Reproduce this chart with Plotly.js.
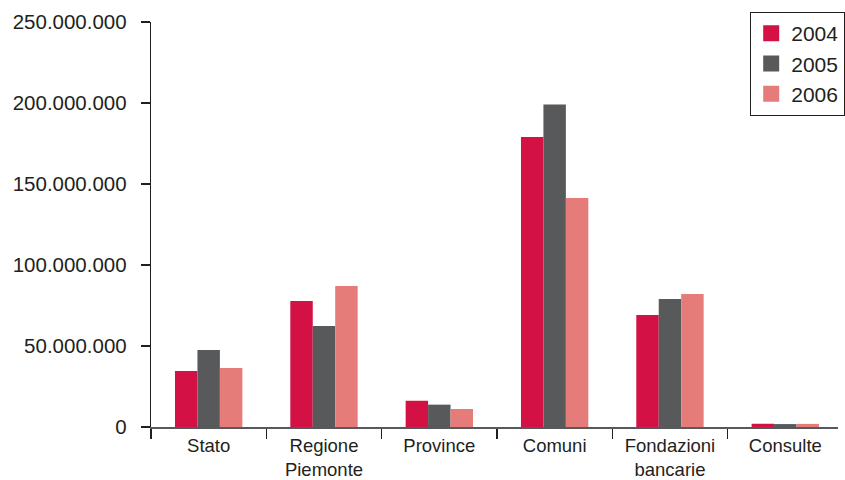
<!DOCTYPE html>
<html><head><meta charset="utf-8">
<script src="https://cdn.plot.ly/plotly-3.0.1.min.js"></script>
<style>html,body{margin:0;padding:0;background:#fff}</style>
</head><body><div id="chart" style="width:845px;height:480px"></div>
<script>
const categories = ["Stato", "Regione<br>Piemonte", "Province", "Comuni", "Fondazioni<br>bancarie", "Consulte"];
const years = ["2004", "2005", "2006"];
const values2004 = [34600000, 77800000, 16200000, 179000000, 69100000, 2000000];
const values2005 = [47500000, 62300000, 13800000, 199000000, 79000000, 1800000];
const values2006 = [36400000, 87000000, 11100000, 141400000, 82100000, 1900000];
const colors = ["#D31145", "#58595B", "#E57C7A"];
const series = [values2004, values2005, values2006];

const traces = series.map((v, i) => ({
  type: "bar", name: years[i], x: categories, y: v, legendgroup: years[i],
  marker: {color: colors[i]}, hoverinfo: "skip", showlegend: false
}));
// legend entries with larger square swatches
years.forEach((yr, i) => traces.push({
  type: "scatter", mode: "markers", name: yr, legendgroup: yr,
  x: [null], y: [null], marker: {symbol: "square", size: 22, color: colors[i]},
  hoverinfo: "skip", showlegend: true
}));

const fam = "Liberation Sans, Arial, sans-serif";
const font = {family: fam, size: 20.5, color: "#231F20"};
const layout = {
  width: 845, height: 480,
  margin: {l: 151, r: 0, t: 22, b: 53},
  paper_bgcolor: "#fff", plot_bgcolor: "#fff",
  font: font,
  separators: ",.",
  barmode: "group", bargap: 0.416, bargroupgap: 0,
  xaxis: {
    range: [-0.5, 5.457], showgrid: false, zeroline: false,
    showline: true, linecolor: "#58595B", linewidth: 1.5,
    ticks: "outside", tickson: "boundaries", ticklen: 10, tickcolor: "#231F20", tickwidth: 1.2,
    tickfont: {family: fam, size: 18.5, color: "#231F20"}, ticklabelstandoff: 1, fixedrange: true
  },
  yaxis: {
    range: [0, 250000000], tickvals: [0, 50000000, 100000000, 150000000, 200000000, 250000000],
    tickformat: ",d", showgrid: false, zeroline: false,
    showline: true, linecolor: "#231F20", linewidth: 1.2,
    ticks: "outside", ticklen: 9, tickcolor: "#231F20", tickwidth: 1.2,
    tickfont: font, ticklabelstandoff: 10, fixedrange: true
  },
  showlegend: true,
  legend: {
    x: 0.872, y: 1.025, xanchor: "left", yanchor: "top",
    bordercolor: "#231F20", borderwidth: 1.2, bgcolor: "#fff",
    font: {family: fam, size: 21, color: "#231F20"},
    tracegroupgap: 0, itemwidth: 30
  }
};
Plotly.newPlot("chart", traces, layout, {displayModeBar: false, staticPlot: true});
</script></body></html>
